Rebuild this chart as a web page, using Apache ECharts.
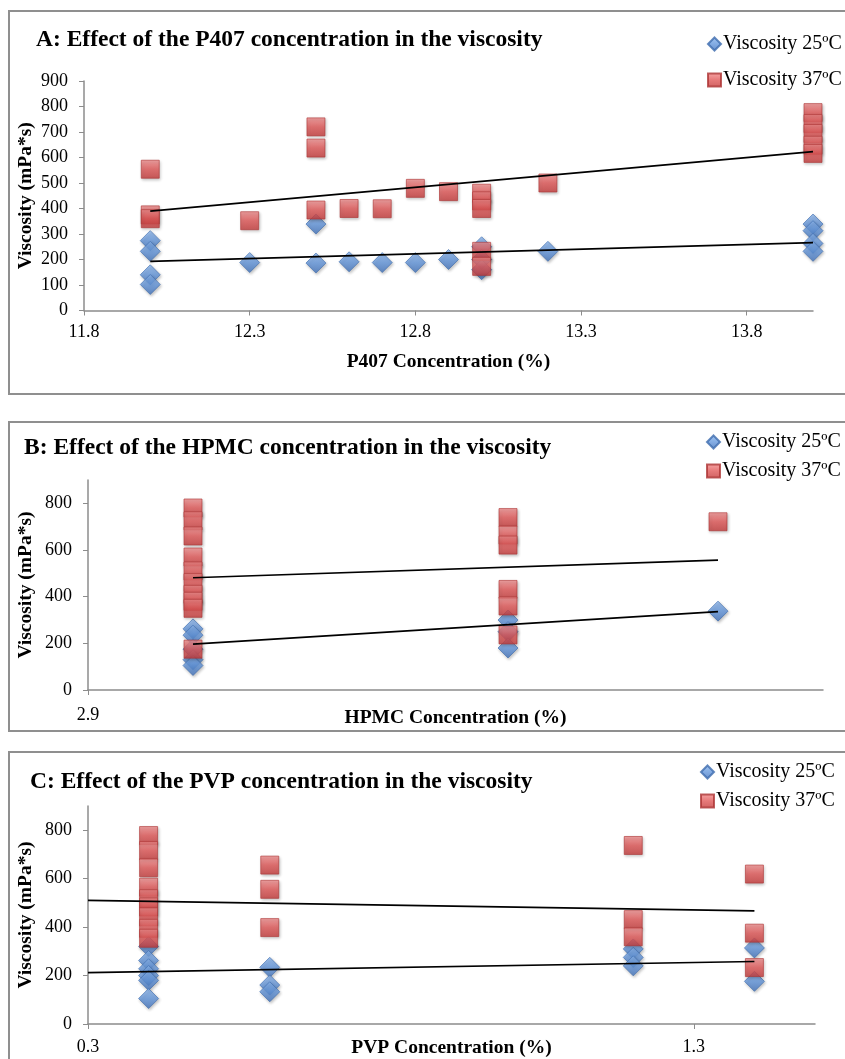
<!DOCTYPE html>
<html>
<head>
<meta charset="utf-8">
<script src="https://cdn.jsdelivr.net/npm/echarts@6/dist/echarts.min.js"></script>
<style>
  html, body { margin: 0; padding: 0; background: #fff; overflow: hidden; }
  #chart { width: 845px; height: 1059px; }
</style>
</head>
<body>
<div id="chart"></div>
<script>
// A: P407
const aConc25 = [12.0, 12.0, 12.0, 12.0, 12.3, 12.5, 12.5, 12.6, 12.7, 12.8, 12.9, 13.0, 13.0, 13.0, 13.2, 14.0, 14.0, 14.0, 14.0]
const aVisc25 = [274, 232, 140, 102, 188, 339, 186, 191, 188, 188, 200, 250, 200, 160, 232, 339, 313, 263, 232]
const aConc37 = [12.0, 12.0, 12.0, 12.3, 12.5, 12.5, 12.5, 12.6, 12.7, 12.8, 12.9, 13.0, 13.0, 13.0, 13.0, 13.0, 13.2, 14.0, 14.0, 14.0, 14.0, 14.0]
const aVisc37 = [554, 375, 360, 352, 720, 637, 394, 400, 399, 479, 466, 460, 430, 400, 232, 173, 500, 776, 733, 694, 648, 616]
const aTrend25 = [[12.0, 193], [14.0, 266]]
const aTrend37 = [[12.0, 390], [14.0, 623]]
const aXTicks = [11.8, 12.3, 12.8, 13.3, 13.8]
const aYTicks = [0, 100, 200, 300, 400, 500, 600, 700, 800, 900]

// B: HPMC
const bConc25 = [3.0, 3.0, 3.0, 3.0, 3.0, 3.3, 3.3, 3.3, 3.5]
const bVisc25 = [262, 235, 175, 130, 105, 300, 250, 180, 338]
const bConc37 = [3.0, 3.0, 3.0, 3.0, 3.0, 3.0, 3.0, 3.0, 3.0, 3.0, 3.3, 3.3, 3.3, 3.3, 3.3, 3.3, 3.5]
const bVisc37 = [780, 725, 660, 570, 510, 460, 410, 380, 350, 175, 739, 664, 621, 431, 360, 236, 721]
const bTrend25 = [[3.0, 197], [3.5, 336]]
const bTrend37 = [[3.0, 481], [3.5, 557]]
const bXTicks = [2.9]

// C: PVP
const cConc25 = [0.4, 0.4, 0.4, 0.4, 0.4, 0.4, 0.6, 0.6, 0.6, 1.2, 1.2, 1.2, 1.4, 1.4]
const cVisc25 = [320, 262, 228, 200, 180, 105, 234, 161, 133, 310, 275, 240, 314, 176]
const cConc37 = [0.4, 0.4, 0.4, 0.4, 0.4, 0.4, 0.4, 0.4, 0.4, 0.6, 0.6, 0.6, 1.2, 1.2, 1.2, 1.4, 1.4, 1.4]
const cVisc37 = [778, 716, 645, 565, 517, 483, 442, 395, 354, 656, 556, 398, 737, 431, 360, 619, 375, 233]
const cTrend25 = [[0.3, 212], [1.4, 258]]
const cTrend37 = [[0.3, 510], [1.4, 467]]
const cXTicks = [0.3, 1.3]

const bcYTicks = [0, 200, 400, 600, 800]

const name25 = 'Viscosity 25ºC'
const name37 = 'Viscosity 37ºC'
const titles = [
  'A: Effect of the P407 concentration in the viscosity',
  'B: Effect of the HPMC concentration in the viscosity',
  'C: Effect of the PVP concentration in the viscosity'
]
const xNames = ['P407 Concentration (%)', 'HPMC Concentration (%)', 'PVP Concentration (%)']
const yName = 'Viscosity (mPa*s)'

const font = "'Liberation Serif', 'Times New Roman', serif"
const blue = {
  type: 'linear', x: 0, y: 0, x2: 0, y2: 1,
  colorStops: [{offset: 0, color: '#8fb8ee'}, {offset: 0.5, color: '#6497dc'}, {offset: 1, color: '#4373bb'}]
}
const red = {
  type: 'linear', x: 0, y: 0, x2: 0, y2: 1,
  colorStops: [{offset: 0, color: '#f49090'}, {offset: 0.5, color: '#e05757'}, {offset: 1, color: '#c43b3b'}]
}

const zip = (xs, ys) => xs.map((x, i) => [x, ys[i]])

const xAxis = (idx, min, max, ticks, labelMargin, nameGap) => ({
  type: 'value', gridIndex: idx, min: min, max: max,
  name: xNames[idx], nameLocation: 'middle', nameGap: nameGap, nameMoveOverlap: false,
  nameTextStyle: {fontFamily: font, fontWeight: 'bold', fontSize: 19.5, color: '#000'},
  axisLine: {onZero: false, lineStyle: {color: '#8c8c8c', width: 1.5}},
  axisTick: {show: true, length: 5, customValues: ticks, lineStyle: {color: '#8c8c8c'}},
  axisLabel: {customValues: ticks, margin: labelMargin, fontFamily: font, fontSize: 18, color: '#000'},
  splitLine: {show: false}
})

const yAxis = (idx, ticks, nameGap) => ({
  type: 'value', gridIndex: idx, min: 0, max: 900,
  name: yName, nameLocation: 'middle', nameGap: nameGap, nameMoveOverlap: false,
  nameTextStyle: {fontFamily: font, fontWeight: 'bold', fontSize: 19.5, color: '#000'},
  axisLine: {show: true, lineStyle: {color: '#8c8c8c', width: 1.5}},
  axisTick: {show: true, length: 5, customValues: ticks, lineStyle: {color: '#8c8c8c'}},
  axisLabel: {customValues: ticks, margin: 16, fontFamily: font, fontSize: 18, color: '#000'},
  splitLine: {show: false}
})

const scatter25 = (idx, data) => ({
  name: name25, type: 'scatter', xAxisIndex: idx, yAxisIndex: idx,
  symbol: 'diamond', symbolSize: [20, 20], data: data,
  itemStyle: {color: blue, borderColor: '#3d6cae', borderWidth: 0.8,
    shadowColor: 'rgba(0,0,0,0.3)', shadowBlur: 3, shadowOffsetX: 1, shadowOffsetY: 1.5}
})
const scatter37 = (idx, data) => ({
  name: name37, type: 'scatter', xAxisIndex: idx, yAxisIndex: idx,
  symbol: 'rect', symbolSize: [18, 18], data: data,
  itemStyle: {color: red, borderColor: '#ad3535', borderWidth: 0.8,
    shadowColor: 'rgba(0,0,0,0.3)', shadowBlur: 3, shadowOffsetX: 1, shadowOffsetY: 1.5}
})
const trend = (idx, data) => ({
  type: 'line', xAxisIndex: idx, yAxisIndex: idx, data: data,
  symbol: 'none', silent: true, z: 5,
  lineStyle: {color: '#000', width: 1.7}
})

const legend = (left, top, gap) => ({
  orient: 'vertical', left: left, top: top, padding: 0, itemGap: gap,
  itemWidth: 13, itemHeight: 13,
  textStyle: {fontFamily: font, fontSize: 20, color: '#000', padding: [0, 0, 0, -3]},
  data: [
    {name: name25, icon: 'diamond', itemStyle: {color: blue, borderColor: '#3d6cae'}},
    {name: name37, icon: 'rect', itemStyle: {color: red, borderColor: '#ad3535'}}
  ]
})

const titleAt = (i, left, top) => ({
  text: titles[i], left: left, top: top, padding: 0,
  textStyle: {fontFamily: font, fontWeight: 'bold', fontSize: 23.5, color: '#000'}
})

const frame = (y, h) => ({
  type: 'rect', shape: {x: 9, y: y, width: 845, height: h},
  style: {fill: 'none', stroke: '#8f8f8f', lineWidth: 2}, silent: true
})

const chart = echarts.init(document.getElementById('chart'))
const option = {
  animation: false,
  backgroundColor: '#fff',
  graphic: [frame(11, 383), frame(422, 309), frame(752, 330)],
  title: [titleAt(0, 36, 28), titleAt(1, 24, 436), titleAt(2, 30, 770)],
  legend: [legend(707, 34, 16), legend(706, 432, 9), legend(700, 762, 9)],
  grid: [
    {left: 84, top: 81, width: 729, height: 229.5, outerBoundsMode: 'none'},
    {left: 88, top: 480, width: 735, height: 210, outerBoundsMode: 'none'},
    {left: 88, top: 806, width: 727, height: 218, outerBoundsMode: 'none'}
  ],
  xAxis: [
    xAxis(0, 11.8, 14.0, aXTicks, 13, 41),
    xAxis(1, 2.9, 3.6, bXTicks, 16, 18),
    xAxis(2, 0.3, 1.5, cXTicks, 14, 14)
  ],
  yAxis: [yAxis(0, aYTicks, 48), yAxis(1, bcYTicks, 52), yAxis(2, bcYTicks, 52)],
  series: [
    scatter25(0, zip(aConc25, aVisc25)),
    scatter37(0, zip(aConc37, aVisc37)),
    trend(0, aTrend25),
    trend(0, aTrend37),
    scatter25(1, zip(bConc25, bVisc25)),
    scatter37(1, zip(bConc37, bVisc37)),
    trend(1, bTrend25),
    trend(1, bTrend37),
    scatter25(2, zip(cConc25, cVisc25)),
    scatter37(2, zip(cConc37, cVisc37)),
    trend(2, cTrend25),
    trend(2, cTrend37)
  ]
}
chart.setOption(option)
</script>
</body>
</html>
